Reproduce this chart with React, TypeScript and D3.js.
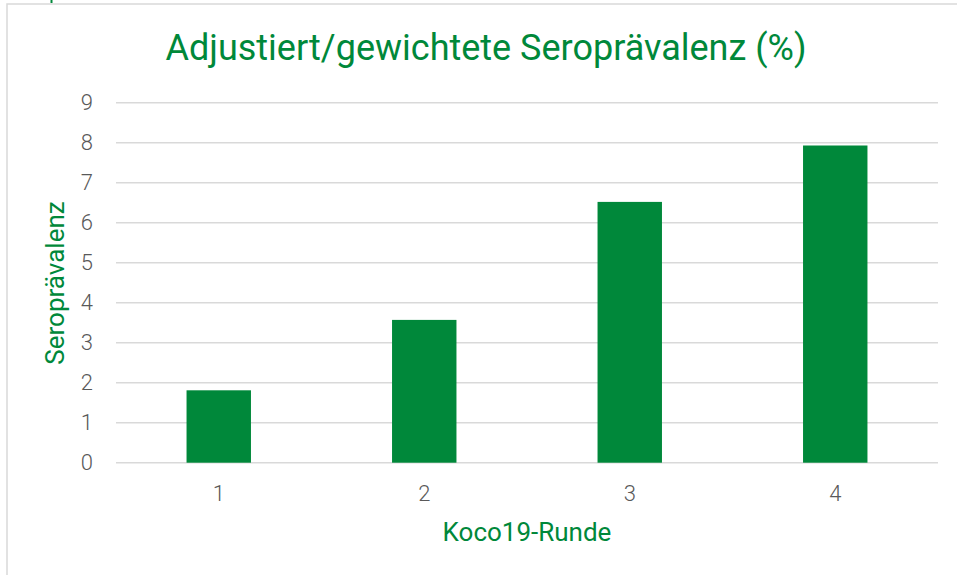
import React from "react";
import * as d3 from "d3";

const categories = ["1", "2", "3", "4"];
const values = [1.81, 3.57, 6.52, 7.93];
const yTicks = [0, 1, 2, 3, 4, 5, 6, 7, 8, 9];
const title = "Adjustiert/gewichtete Seroprävalenz (%)";
const xTitle = "Koco19-Runde";
const yTitle = "Seroprävalenz";

const W = 957;
const H = 575;
const GREEN = "#00883a";
const GRID = "#d9d9d9";
const GRAY = "#595959";
const FONT = "Roboto, 'Noto Sans', sans-serif";

export default function App() {
  const x = d3.scaleBand<string>().domain(categories).range([116, 938]).padding(0);
  const y = d3.scaleLinear().domain([0, 9]).range([462.7, 102.7]);
  const barW = x.bandwidth() / 3.19;

  return (
    <div style={{ position: "absolute", left: 0, top: 0 }}>
      <svg width={W} height={H} style={{ display: "block", background: "#fff" }}>
        <rect x={7} y={4} width={W + 20} height={H + 20} fill="#fff" stroke={GRID} strokeWidth={1.5} />
        <line x1={51.5} x2={51.5} y1={0} y2={3} stroke={GREEN} strokeWidth={2} />
        <text x={486} y={60} textAnchor="middle" fill={GREEN} fontFamily={FONT} fontSize={36}>
          {title}
        </text>
        {yTicks.map((t) => (
          <g key={t}>
            <line x1={116} x2={938} y1={y(t)} y2={y(t)} stroke={GRID} strokeWidth={1.5} />
            <text x={93} y={y(t)} dy="0.35em" textAnchor="end" fill={GRAY} fontFamily={FONT} fontWeight={300} fontSize={22}>
              {t}
            </text>
          </g>
        ))}
        {categories.map((c, i) => {
          const cx = (x(c) as number) + x.bandwidth() / 2;
          return (
            <g key={c}>
              <rect x={cx - barW / 2} y={y(values[i])} width={barW} height={y(0) - y(values[i])} fill={GREEN} />
              <text x={cx} y={501} textAnchor="middle" fill={GRAY} fontFamily={FONT} fontWeight={300} fontSize={22}>
                {c}
              </text>
            </g>
          );
        })}
        <text x={527} y={541} textAnchor="middle" fill={GREEN} fontFamily={FONT} fontSize={26}>
          {xTitle}
        </text>
        <text transform={`translate(64,283) rotate(-90)`} textAnchor="middle" fill={GREEN} fontFamily={FONT} fontSize={26}>
          {yTitle}
        </text>
      </svg>
    </div>
  );
}
